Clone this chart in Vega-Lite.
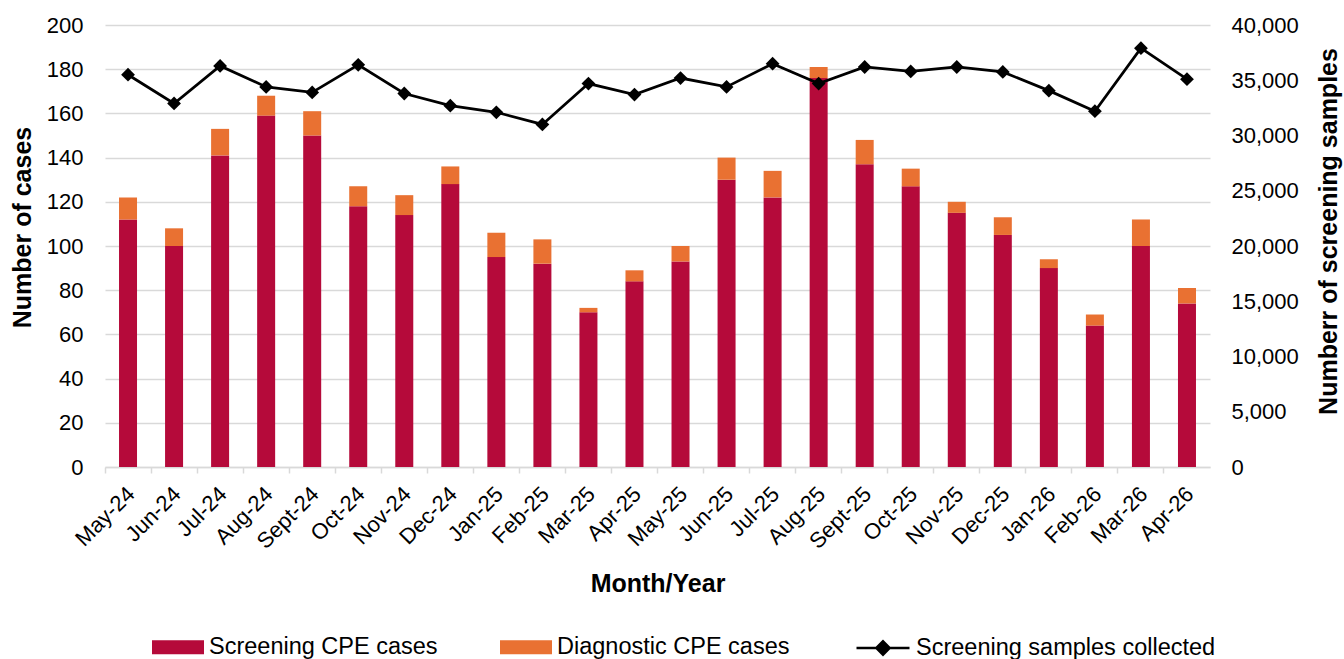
{
  "$schema": "https://vega.github.io/schema/vega-lite/v6.json",
  "width": 1105,
  "height": 442,
  "autosize": {"type": "none"},
  "padding": {"left": 105, "top": 25, "right": 134, "bottom": 192},
  "config": {
    "font": "Liberation Sans",
    "view": {"stroke": null},
    "axis": {"labelFont": "Liberation Sans", "titleFont": "Liberation Sans", "labelColor": "black", "titleColor": "black"},
    "legend": {"labelFont": "Liberation Sans", "labelColor": "black"}
  },
  "data": {
    "values": [
      {"month": "May-24", "screening": 112, "diagnostic": 10, "samples": 35500},
      {"month": "Jun-24", "screening": 100, "diagnostic": 8, "samples": 32900},
      {"month": "Jul-24", "screening": 141, "diagnostic": 12, "samples": 36300},
      {"month": "Aug-24", "screening": 159, "diagnostic": 9, "samples": 34400},
      {"month": "Sept-24", "screening": 150, "diagnostic": 11, "samples": 33900},
      {"month": "Oct-24", "screening": 118, "diagnostic": 9, "samples": 36400},
      {"month": "Nov-24", "screening": 114, "diagnostic": 9, "samples": 33800},
      {"month": "Dec-24", "screening": 128, "diagnostic": 8, "samples": 32700},
      {"month": "Jan-25", "screening": 95, "diagnostic": 11, "samples": 32100},
      {"month": "Feb-25", "screening": 92, "diagnostic": 11, "samples": 31000},
      {"month": "Mar-25", "screening": 70, "diagnostic": 2, "samples": 34700},
      {"month": "Apr-25", "screening": 84, "diagnostic": 5, "samples": 33700},
      {"month": "May-25", "screening": 93, "diagnostic": 7, "samples": 35200},
      {"month": "Jun-25", "screening": 130, "diagnostic": 10, "samples": 34400},
      {"month": "Jul-25", "screening": 122, "diagnostic": 12, "samples": 36500},
      {"month": "Aug-25", "screening": 176, "diagnostic": 5, "samples": 34700},
      {"month": "Sept-25", "screening": 137, "diagnostic": 11, "samples": 36200},
      {"month": "Oct-25", "screening": 127, "diagnostic": 8, "samples": 35800},
      {"month": "Nov-25", "screening": 115, "diagnostic": 5, "samples": 36200},
      {"month": "Dec-25", "screening": 105, "diagnostic": 8, "samples": 35750},
      {"month": "Jan-26", "screening": 90, "diagnostic": 4, "samples": 34060},
      {"month": "Feb-26", "screening": 64, "diagnostic": 5, "samples": 32200},
      {"month": "Mar-26", "screening": 100, "diagnostic": 12, "samples": 37900},
      {"month": "Apr-26", "screening": 74, "diagnostic": 7, "samples": 35100}
    ]
  },
  "layer": [
    {
      "transform": [{"fold": ["screening", "diagnostic"], "as": ["series", "cases"]}],
      "mark": {"type": "bar", "width": 18},
      "encoding": {
        "x": {
          "field": "month", "type": "nominal", "sort": null,
          "scale": {"paddingInner": 0, "paddingOuter": 0},
          "axis": {
            "orient": "bottom",
            "title": "Month/Year", "titleFontSize": 25, "titleFontWeight": "bold",
            "titleY": 116, "titleBaseline": "middle",
            "labelAngle": -45, "labelFontSize": 22, "labelPadding": 16, "labelOffset": -4,
            "ticks": false, "domain": false, "grid": false
          }
        },
        "y": {
          "field": "cases", "type": "quantitative", "stack": "zero",
          "scale": {"domain": [0, 200]},
          "axis": {
            "title": "Number of cases",
            "values": [0, 20, 40, 60, 80, 100, 120, 140, 160, 180, 200],
            "grid": true, "gridColor": "#d9d9d9", "gridWidth": 1.5,
            "domain": false, "ticks": false,
            "labelFontSize": 22, "labelPadding": 22,
            "titleFontSize": 25, "titleFontWeight": "bold",
            "titleX": -83, "titleY": 202, "titleAngle": -90,
            "titleBaseline": "middle", "titleAlign": "center"
          }
        },
        "color": {
          "field": "series", "type": "nominal",
          "scale": {"domain": ["screening", "diagnostic"], "range": ["#B50A3A", "#E97132"]},
          "legend": {
            "orient": "none", "legendX": 47, "legendY": 596, "direction": "horizontal",
            "title": null,
            "labelExpr": "datum.label == 'screening' ? 'Screening CPE cases' : 'Diagnostic CPE cases'",
            "symbolType": "M-1,-0.27H1V0.27H-1Z", "symbolSize": 2704, "symbolStrokeWidth": 0,
            "symbolOpacity": 1,
            "labelFontSize": 23.5, "labelOffset": 5, "columnPadding": 62, "labelLimit": 400
          }
        },
        "order": {"field": "series", "sort": "descending"}
      }
    },
    {
      "encoding": {
        "x": {
          "field": "month", "type": "nominal", "sort": null,
          "axis": {
            "orient": "bottom",
            "bandPosition": 0, "labels": false, "title": null,
            "ticks": true, "tickColor": "#d9d9d9", "tickSize": 6, "tickWidth": 1.5,
            "domain": true, "domainColor": "#d9d9d9", "domainWidth": 1.5, "grid": false
          }
        },
        "y": {
          "field": "samples", "type": "quantitative",
          "scale": {"domain": [0, 40000]},
          "axis": {
            "orient": "right", "title": "Numberr of screening samples",
            "values": [0, 5000, 10000, 15000, 20000, 25000, 30000, 35000, 40000],
            "format": ",.0f", "grid": false, "domain": false, "ticks": false,
            "labelFontSize": 22, "labelPadding": 21,
            "titleFontSize": 25, "titleFontWeight": "bold",
            "titleX": 118, "titleY": 206, "titleAngle": -90,
            "titleBaseline": "middle", "titleAlign": "center"
          }
        }
      },
      "layer": [
        {
          "mark": {"type": "line", "strokeWidth": 2.75},
          "encoding": {
            "stroke": {
              "datum": "Screening samples collected", "type": "nominal",
              "scale": {"range": ["black"]},
              "legend": {
                "orient": "none", "legendX": 750, "legendY": 595, "title": null,
                "symbolType": "M-1,0H1M-0.25,0L0,-0.25L0.25,0L0,0.25Z",
                "symbolSize": 2809, "symbolStrokeWidth": 2.5, "symbolFillColor": "black",
                "labelFontSize": 23.5, "labelOffset": 5, "labelLimit": 400
              }
            }
          }
        },
        {
          "mark": {"type": "point", "shape": "diamond", "filled": true, "size": 190, "color": "black", "opacity": 1},
          "encoding": {}
        }
      ]
    }
  ],
  "resolve": {"scale": {"y": "independent"}, "axis": {"x": "independent"}}
}
